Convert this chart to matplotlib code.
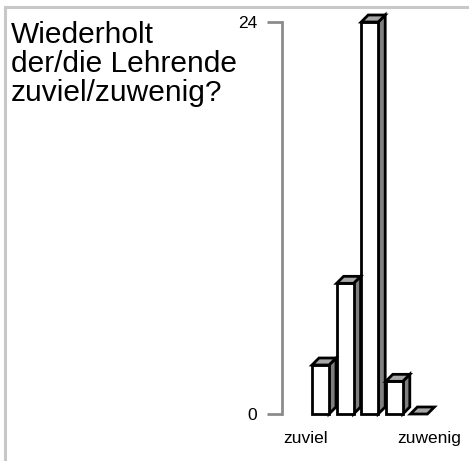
import matplotlib
matplotlib.use("Agg")
import matplotlib.pyplot as plt
from matplotlib.patches import Polygon
from matplotlib.lines import Line2D

# Data
categories = ["1", "2", "3", "4", "5"]
values = [3, 8, 24, 2, 0]
ytick_values = [0, 24]
ytick_labels = ["0", "24"]
x_left_label = "zuviel"
x_right_label = "zuwenig"
title = "Wiederholt\nder/die Lehrende\nzuviel/zuwenig?"

W, H, DPI = 469, 461, 100
plt.rcParams['font.family'] = ['Liberation Sans', 'DejaVu Sans']
fig = plt.figure(figsize=(W / DPI, H / DPI), dpi=DPI)

# axes placement in pixels
ax_left_px, ax_right_px = 282, 462
y0_px, y24_px = 414, 22
ax = fig.add_axes([ax_left_px / W, (H - y0_px) / H,
                   (ax_right_px - ax_left_px) / W, (y0_px - y24_px) / H])
ax.patch.set_alpha(0)

spacing_px = 24.6
first_center_px = 320.5
xmin = (ax_left_px - first_center_px) / spacing_px
xmax = (ax_right_px - first_center_px) / spacing_px
ax.set_xlim(xmin, xmax)
ax.set_ylim(0, 24)

px_per_x = spacing_px
px_per_y = (y0_px - y24_px) / 24.0
bw = 17 / px_per_x
dx = 7.0 / px_per_x
dy = 7.0 / px_per_y

edge = "black"
lw = 2.0
for i, v in enumerate(values):
    x0 = i - bw / 2
    x1 = i + bw / 2
    if v > 0:
        side = Polygon([(x1, 0), (x1 + dx, dy), (x1 + dx, v + dy), (x1, v)],
                       closed=True, facecolor="#7f7f7f", edgecolor=edge,
                       linewidth=lw, joinstyle="miter", clip_on=False, zorder=2)
        ax.add_patch(side)
        front = Polygon([(x0, 0), (x1, 0), (x1, v), (x0, v)], closed=True,
                        facecolor="white", edgecolor=edge, linewidth=lw,
                        joinstyle="miter", clip_on=False, zorder=3)
        ax.add_patch(front)
    top = Polygon([(x0, v), (x1, v), (x1 + dx, v + dy), (x0 + dx, v + dy)],
                  closed=True, facecolor="#a6a6a6", edgecolor=edge,
                  linewidth=lw, joinstyle="miter", clip_on=False, zorder=4)
    ax.add_patch(top)

for s in ["top", "right", "bottom"]:
    ax.spines[s].set_visible(False)
ax.spines["left"].set_color("#8c8c8c")
ax.spines["left"].set_linewidth(2)
ax.spines["left"].set_bounds(0, 24)
ax.set_xticks([])
ax.set_yticks(ytick_values)
ax.set_yticklabels(ytick_labels)
ax.tick_params(axis="y", direction="out", length=11, width=2,
               color="#8c8c8c", pad=7, labelsize=12.5, labelcolor="black")
for lab in ax.get_yticklabels():
    if lab.get_text() == "24":
        lab.set_verticalalignment("center_baseline")

# x labels
fig.text(306 / W, 1 - 438 / H, x_left_label, ha="center", va="center",
         fontsize=12.5)
fig.text(429 / W, 1 - 438 / H, x_right_label, ha="center", va="center",
         fontsize=12.5)

# title
fig.text(11 / W, 1 - 21 / H, title, ha="left", va="top", fontsize=21.5,
         linespacing=1.04)

# frame lines
fig.add_artist(Line2D([5 / W, 1], [1 - 7 / H, 1 - 7 / H], color="#c8c8c8",
                      linewidth=2.2, transform=fig.transFigure))
fig.add_artist(Line2D([5 / W, 5 / W], [0, 1 - 7 / H], color="#c8c8c8",
                      linewidth=2.2, transform=fig.transFigure))

fig.savefig("out.png", dpi=DPI)
